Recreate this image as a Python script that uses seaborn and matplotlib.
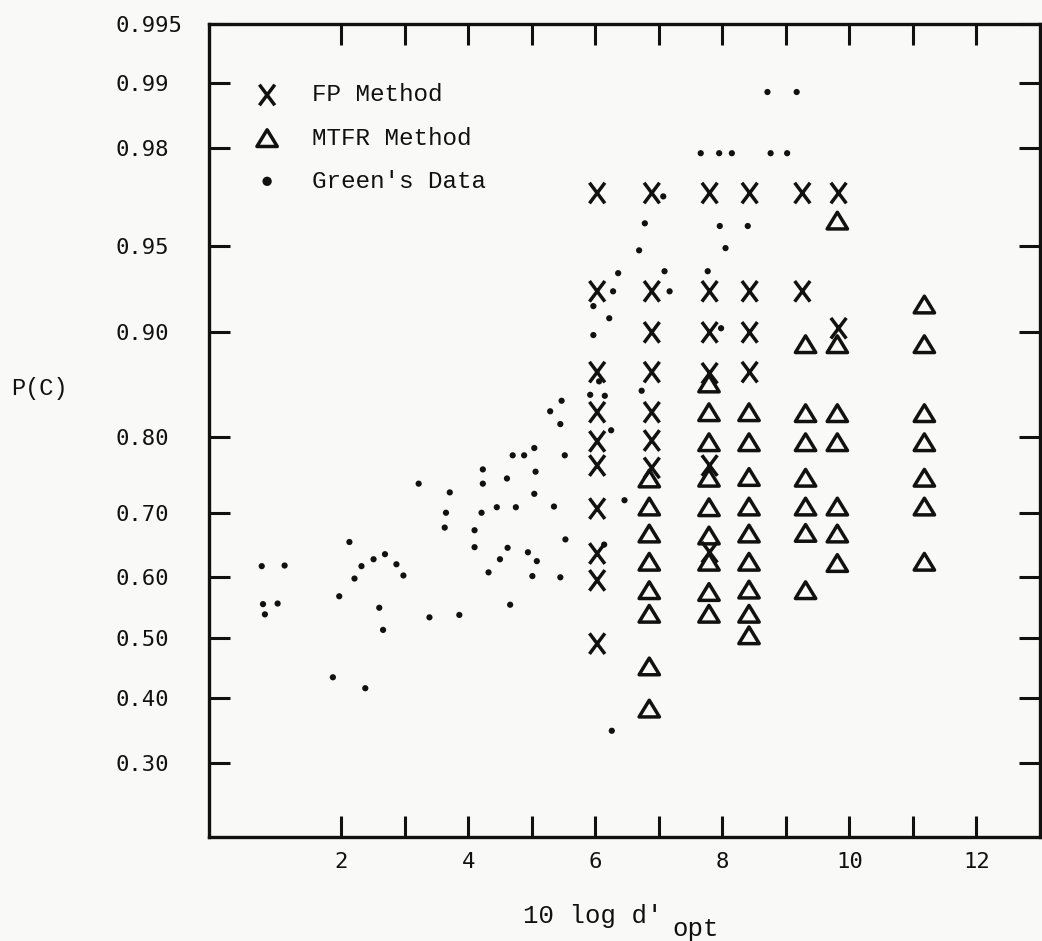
import math
import numpy as np
import pandas as pd
import matplotlib
matplotlib.use("Agg")
import matplotlib.pyplot as plt
from matplotlib.path import Path
from matplotlib.ticker import NullLocator
import seaborn as sns

# ------------------------------------------------------------
# Data (x = 10 log d'opt, y = P(C))
# ------------------------------------------------------------
fp_x = [6.03, 6.03, 6.03, 6.03, 6.03, 6.03, 6.03, 6.03, 6.03, 6.03,
        6.89, 6.89, 6.89, 6.89, 6.89, 6.89, 6.89,
        7.80, 7.80, 7.80, 7.80, 7.80, 7.80,
        8.43, 8.43, 8.43, 8.43,
        9.26, 9.26,
        9.83, 9.83]
fp_p = [0.969, 0.927, 0.8675, 0.828, 0.795, 0.765, 0.706, 0.638, 0.595, 0.490,
        0.969, 0.927, 0.900, 0.8675, 0.828, 0.796, 0.762,
        0.969, 0.927, 0.900, 0.8665, 0.765, 0.640,
        0.969, 0.927, 0.900, 0.8675,
        0.969, 0.927,
        0.969, 0.903]

mtfr_x = [6.85, 6.85, 6.85, 6.85, 6.85, 6.85, 6.85, 6.85,
          7.79, 7.79, 7.79, 7.79, 7.79, 7.79, 7.79, 7.79, 7.79,
          8.42, 8.42, 8.42, 8.42, 8.42, 8.42, 8.42, 8.42, 8.42,
          9.31, 9.31, 9.31, 9.31, 9.31, 9.31, 9.31,
          9.81, 9.81, 9.81, 9.81, 9.81, 9.81, 9.81,
          11.18, 11.18, 11.18, 11.18, 11.18, 11.18, 11.18]
mtfr_p = [0.748, 0.709, 0.669, 0.625, 0.579, 0.540, 0.452, 0.383,
          0.857, 0.828, 0.794, 0.749, 0.708, 0.666, 0.625, 0.576, 0.540,
          0.828, 0.794, 0.750, 0.709, 0.669, 0.625, 0.580, 0.540, 0.504,
          0.891, 0.827, 0.794, 0.749, 0.709, 0.670, 0.579,
          0.960, 0.891, 0.827, 0.794, 0.709, 0.669, 0.623,
          0.919, 0.891, 0.827, 0.794, 0.749, 0.709, 0.625]

green_x = [0.75, 1.11, 0.77, 1.00, 0.80, 1.97, 1.87, 2.38, 2.13, 2.32,
           2.21, 2.51, 2.69, 2.87, 2.98, 2.60, 2.66, 3.22, 3.39, 3.71,
           3.65, 3.63, 3.86, 4.10, 4.10, 4.23, 4.23, 4.21, 4.32, 4.45,
           4.50, 4.62, 4.66, 4.61, 4.75, 4.70, 4.88, 5.04, 5.06, 5.04,
           4.94, 5.08, 5.01, 5.35, 5.53, 5.45, 5.29, 5.47, 5.45, 5.52,
           5.97, 6.22, 5.97, 5.92, 6.15, 6.25, 6.14, 6.26, 6.46, 6.36,
           6.28, 6.69, 6.78, 7.07, 7.09, 7.17, 6.73, 7.66, 7.95, 8.15,
           8.76, 9.02, 8.71, 9.17, 7.96, 8.40, 8.05, 7.77, 7.98, 6.06]
green_p = [0.618, 0.619, 0.556, 0.557, 0.539, 0.569, 0.434, 0.416, 0.656, 0.618,
           0.598, 0.629, 0.637, 0.621, 0.603, 0.550, 0.513, 0.741, 0.534, 0.729,
           0.700, 0.678, 0.538, 0.674, 0.648, 0.760, 0.741, 0.700, 0.608, 0.708,
           0.629, 0.647, 0.555, 0.748, 0.708, 0.778, 0.778, 0.787, 0.757, 0.727,
           0.640, 0.626, 0.602, 0.709, 0.660, 0.600, 0.829, 0.840, 0.815, 0.778,
           0.918, 0.910, 0.898, 0.846, 0.845, 0.808, 0.652, 0.348, 0.718, 0.937,
           0.927, 0.948, 0.959, 0.968, 0.938, 0.927, 0.850, 0.979, 0.979, 0.979,
           0.979, 0.979, 0.989, 0.989, 0.958, 0.958, 0.949, 0.938, 0.903, 0.859]

x_ticks = [2, 3, 4, 5, 6, 7, 8, 9, 10, 11, 12]
x_tick_labels = ["2", "", "4", "", "6", "", "8", "", "10", "", "12"]
y_ticks = [0.30, 0.40, 0.50, 0.60, 0.70, 0.80, 0.90, 0.95, 0.98, 0.99, 0.995]
y_tick_labels = ["0.30", "0.40", "0.50", "0.60", "0.70", "0.80",
                 "0.90", "0.95", "0.98", "0.99", "0.995"]


# ------------------------------------------------------------
# Normal probability scale (probit) without scipy
# ------------------------------------------------------------
_A = [-3.969683028665376e+01, 2.209460984245205e+02, -2.759285104469687e+02,
      1.383577518672690e+02, -3.066479806614716e+01, 2.506628277459239e+00]
_B = [-5.447609879822406e+01, 1.615858368580409e+02, -1.556989798598866e+02,
      6.680131188771972e+01, -1.328068155288572e+01]
_C = [-7.784894002430293e-03, -3.223964580411365e-01, -2.400758277161838e+00,
      -2.549732539343734e+00, 4.374664141464968e+00, 2.938163982698783e+00]
_D = [7.784695709041462e-03, 3.224671290700398e-01, 2.445134137142996e+00,
      3.754408661907416e+00]


def _ppf_scalar(p):
    if not np.isfinite(p):
        return np.nan
    p = min(max(p, 1e-12), 1 - 1e-12)
    if p < 0.02425:
        q = math.sqrt(-2 * math.log(p))
        return ((((((_C[0] * q + _C[1]) * q + _C[2]) * q + _C[3]) * q + _C[4]) * q + _C[5]) /
                ((((_D[0] * q + _D[1]) * q + _D[2]) * q + _D[3]) * q + 1))
    if p > 1 - 0.02425:
        return -_ppf_scalar(1 - p)
    q = p - 0.5
    r = q * q
    return ((((((_A[0] * r + _A[1]) * r + _A[2]) * r + _A[3]) * r + _A[4]) * r + _A[5]) * q /
            (((((_B[0] * r + _B[1]) * r + _B[2]) * r + _B[3]) * r + _B[4]) * r + 1))


def _cdf_scalar(z):
    if not np.isfinite(z):
        return np.nan
    return 0.5 * (1 + math.erf(z / math.sqrt(2)))


probit = np.vectorize(_ppf_scalar, otypes=[float])
norm_cdf = np.vectorize(_cdf_scalar, otypes=[float])


# ------------------------------------------------------------
# Markers shaped like the typewriter glyphs
# ------------------------------------------------------------
x_marker = Path([(-0.75, -1), (0.75, 1), (-0.75, 1), (0.75, -1)],
                [Path.MOVETO, Path.LINETO, Path.MOVETO, Path.LINETO])
tri_marker = Path([(0, 0.82), (-1, -0.82), (1, -0.82), (0, 0.82)],
                  [Path.MOVETO, Path.LINETO, Path.LINETO, Path.CLOSEPOLY])

# ------------------------------------------------------------
# Figure
# ------------------------------------------------------------
sns.set_style("ticks")
plt.rcParams["font.family"] = ["Liberation Mono", "DejaVu Sans Mono"]
bg = "#f9f9f7"
ink = "#111111"

fig = plt.figure(figsize=(10.42, 9.41), dpi=100, facecolor=bg)
ax = fig.add_axes([209 / 1042, 1 - 837 / 941, 831 / 1042, 813 / 941])
ax.set_facecolor(bg)
ax.set_yscale("function", functions=(probit, norm_cdf))

fp_df = pd.DataFrame({"x": fp_x, "p": fp_p})
mtfr_df = pd.DataFrame({"x": mtfr_x, "p": mtfr_p})
green_df = pd.DataFrame({"x": green_x, "p": green_p})

sns.scatterplot(data=fp_df, x="x", y="p", marker=x_marker, s=220,
                color=ink, facecolor="none", edgecolor=ink, linewidth=2.5,
                ax=ax, label="FP Method", zorder=3)
sns.scatterplot(data=mtfr_df, x="x", y="p", marker=tri_marker, s=215,
                color=ink, facecolor="none", edgecolor=ink, linewidth=2.5,
                ax=ax, label="MTFR Method", zorder=3)
sns.scatterplot(data=green_df, x="x", y="p", marker="o", s=20,
                color=ink, edgecolor="none", linewidth=0,
                ax=ax, label="Green's Data", zorder=3)

ax.set_xlim(-0.08, 13.0)
ax.set_ylim(0.2014, 0.995)
ax.set_xticks(x_ticks, labels=x_tick_labels)
ax.set_yticks(y_ticks, labels=y_tick_labels)
ax.yaxis.set_minor_locator(NullLocator())
ax.xaxis.set_minor_locator(NullLocator())

ax.tick_params(axis="both", direction="in", length=15, width=2.2, color=ink,
               top=True, right=True, labelcolor=ink)
ax.tick_params(axis="x", pad=11)
ax.tick_params(axis="y", pad=67)
for lab in ax.get_yticklabels() + ax.get_xticklabels():
    lab.set_fontfamily("DejaVu Sans Mono")
    lab.set_fontsize(16)
for lab in ax.get_yticklabels():
    lab.set_horizontalalignment("left")

for side in ["left", "right", "top", "bottom"]:
    ax.spines[side].set_visible(True)
    ax.spines[side].set_linewidth(2.4)
    ax.spines[side].set_color(ink)

# axis titles
ax.set_xlabel("")
ax.set_ylabel("P(C)", rotation=0, fontsize=17, color=ink, ha="center", va="center")
ax.yaxis.set_label_coords(-0.2046, 0.552)
ax.text(0.4620, -0.097, "10 log d'", transform=ax.transAxes, fontsize=18.5,
        color=ink, ha="center", va="center")
ax.text(0.5575, -0.1130, "opt", transform=ax.transAxes, fontsize=18.5,
        color=ink, ha="left", va="center")

# legend
leg = ax.legend(loc="upper left", bbox_to_anchor=(0.0553, 0.927), frameon=False,
                fontsize=17.5, handlelength=1.0, handletextpad=1.35,
                labelspacing=0.83, borderpad=0, borderaxespad=0, scatterpoints=1)
leg.legend_handles[2].set_sizes([45])
for t in leg.get_texts():
    t.set_color(ink)

fig.savefig("out.png", dpi=100, facecolor=bg)
